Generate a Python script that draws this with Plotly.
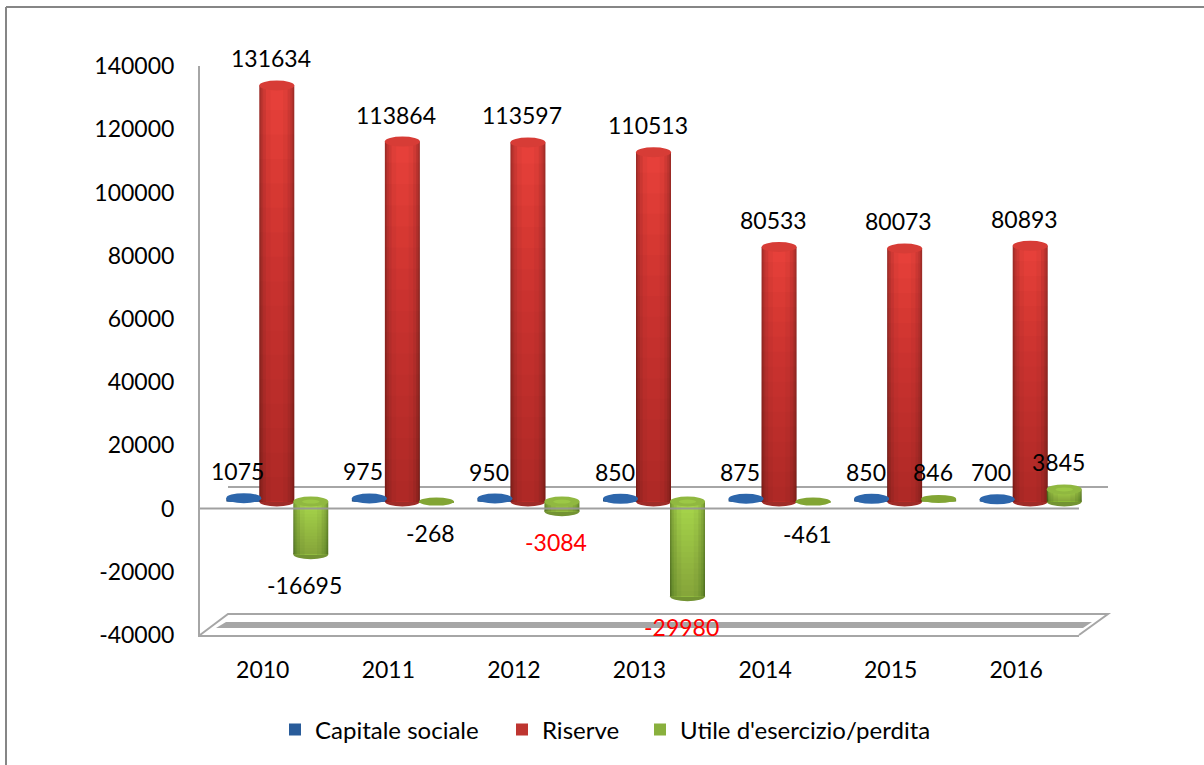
import plotly.graph_objects as go

years = ["2010", "2011", "2012", "2013", "2014", "2015", "2016"]
capitale = [1075, 975, 950, 850, 875, 850, 700]
riserve = [131634, 113864, 113597, 110513, 80533, 80073, 80893]
utile = [-16695, -268, -3084, -29980, -461, 846, 3845]
y_ticks = [-40000, -20000, 0, 20000, 40000, 60000, 80000, 100000, 120000, 140000]
names = ["Capitale sociale", "Riserve", "Utile d'esercizio/perdita"]

W, H = 1204, 765
GRAY = "rgb(166,166,166)"
FONT = "Lato"
FS = 23

X0, X1, Y_TOP, Y_BOT = 200, 1079, 66, 635
DX, DY = 14, 7          # depth offset of the 3D plot floor
PX_X = (X1 - X0) / 7    # pixels per category
PX_Y = (Y_BOT - Y_TOP) / 180000  # pixels per unit

def fx(p): return p / W
def fy(p): return 1 - p / H

OFFSETS = [-33 / PX_X, 0, 34 / PX_X]
BAR_W = 35 / PX_X
STRIPS = [(1.0, 0.70), (0.95, 0.78), (0.88, 0.86), (0.78, 0.93), (0.62, 1.0), (0.36, 1.04)]
COLORS = [(48, 108, 180), (222, 62, 56), (160, 205, 72)]
series = [capitale, riserve, utile]

def shade(c, k):
    return "rgb(%d,%d,%d)" % tuple(min(255, int(v * k)) for v in c)

fig = go.Figure()
# invisible trace that carries the visible axes
fig.add_trace(go.Scatter(x=years, y=[0] * 7, mode="none", xaxis="x", yaxis="y",
                         showlegend=False, hoverinfo="skip"))
legends = ["legend", "legend2", "legend3"]
for s, vals in enumerate(series):
    xs = [i + OFFSETS[s] for i in range(7)]
    for j, (wf, k) in enumerate(STRIPS):
        fig.add_trace(go.Bar(
            x=xs, y=vals, width=BAR_W * wf, xaxis="x2", yaxis="y2",
            marker=dict(color=shade(COLORS[s], k), line=dict(width=0)),
            name=names[s], showlegend=(j == 2), legend=legends[s],
            legendgroup=names[s], hoverinfo="skip"))

shapes = []
# outer frame: only the top and left edges are visible
shapes.append(dict(type="line", xref="paper", yref="paper", x0=fx(6), x1=1, y0=fy(7), y1=fy(7),
                   line=dict(color="rgb(134,134,134)", width=2), layer="below"))
shapes.append(dict(type="line", xref="paper", yref="paper", x0=fx(6), x1=fx(6), y0=fy(7), y1=0,
                   line=dict(color="rgb(134,134,134)", width=2), layer="below"))
# back zero line and 3D floor
shapes.append(dict(type="line", xref="paper", yref="paper", x0=fx(X0 + 28), x1=fx(X1 + 29), y0=fy(487), y1=fy(487),
                   line=dict(color=GRAY, width=2), layer="below"))
shapes.append(dict(type="path", xref="paper", yref="paper",
                   path=f"M{fx(X0)},{fy(Y_BOT)} L{fx(X0 + 28)},{fy(614)} L{fx(X1 + 29)},{fy(614)} L{fx(X1)},{fy(Y_BOT)}",
                   line=dict(color=GRAY, width=2), layer="below"))
shapes.append(dict(type="path", xref="paper", yref="paper",
                   path=f"M{fx(216)},{fy(628)} L{fx(226)},{fy(622)} L{fx(1092)},{fy(622)} L{fx(1083)},{fy(628)} Z",
                   line=dict(width=0), fillcolor=GRAY, layer="below"))

EH = 5 / PX_Y
def ellipse(cx, cy, color, layer, hw=BAR_W / 2, hh=EH):
    return dict(type="circle", xref="x2", yref="y2", x0=cx - hw, x1=cx + hw, y0=cy - hh, y1=cy + hh,
                fillcolor=color, line=dict(width=0), layer=layer)

# red feet sit behind the bars
for i in range(7):
    shapes.append(ellipse(i + OFFSETS[1], 0, shade(COLORS[1], 0.72), "below"))
# vertical shading of the tall cylinders
for s in (1, 2):
    for i, v in enumerate(series[s]):
        if abs(v) < 2000:
            continue
        cx = i + OFFSETS[s]
        lo, hi = min(v, 0), max(v, 0)
        alpha = 0.02 if s == 1 else 0.012
        for n in range(1, 17):
            shapes.append(dict(type="rect", xref="x2", yref="y2", x0=cx - BAR_W / 2, x1=cx + BAR_W / 2,
                               y0=lo, y1=lo + (hi - lo) * n / 17,
                               fillcolor=f"rgba(40,0,0,{alpha})", line=dict(width=0), layer="above"))
# flat blue discs
for i, v in enumerate(capitale):
    shapes.append(ellipse(i + OFFSETS[0], v, shade(COLORS[0], 0.95), "above"))
# green discs and cylinder ends
for i, v in enumerate(utile):
    cx = i + OFFSETS[2]
    if abs(v) < 2000:
        shapes.append(ellipse(cx, max(v, 0), "rgb(130,165,52)", "above", hh=4 / PX_Y))
    else:
        shapes.append(ellipse(cx, min(v, 0), shade(COLORS[2], 0.72), "below"))
        shapes.append(ellipse(cx, max(v, 0), shade(COLORS[2], 0.9), "above"))
        shapes.append(ellipse(cx, max(v, 0), shade(COLORS[2], 0.98), "above", hw=BAR_W / 4, hh=EH / 2.5))
# red tops
for i, v in enumerate(riserve):
    shapes.append(ellipse(i + OFFSETS[1], v, shade(COLORS[1], 0.97), "above"))
# the front zero line runs across the bars
shapes.append(dict(type="line", xref="paper", yref="y", x0=fx(X0), x1=fx(X1), y0=0, y1=0,
                   line=dict(color="rgba(150,150,150,0.9)", width=2), layer="above"))

annotations = []
for s, vals in enumerate(series):
    for i, v in enumerate(vals):
        annotations.append(dict(
            x=i + OFFSETS[s], y=v, xref="x2", yref="y2", text=str(v), showarrow=False,
            xshift=-6, yshift=27 if v >= 0 else -31,
            font=dict(family=FONT, size=FS, color="red" if v in (-3084, -29980) else "black")))

legend_common = dict(orientation="h", bgcolor="rgba(0,0,0,0)", yanchor="middle", y=fy(730),
                     xanchor="left",
                     font=dict(family=FONT, size=24, color="black"),
                     itemclick=False, itemdoubleclick=False)

fig.update_layout(
    width=W, height=H, autosize=False,
    margin=dict(l=0, r=0, t=0, b=0, autoexpand=False),
    paper_bgcolor="white", plot_bgcolor="rgba(0,0,0,0)",
    barmode="overlay", showlegend=True,
    font=dict(family=FONT, size=FS, color="black"),
    xaxis=dict(domain=[fx(X0), fx(X1)], type="category", categoryorder="array", categoryarray=years,
               range=[-0.5, 6.5], anchor="y", showgrid=False, showline=True, linecolor=GRAY, linewidth=2,
               ticks="", ticklabelstandoff=13, zeroline=False, tickfont=dict(family=FONT, size=FS, color="black")),
    yaxis=dict(domain=[fy(Y_BOT), fy(Y_TOP)], range=[-40000, 140000], tickvals=y_ticks,
               ticktext=[str(t) for t in y_ticks], anchor="x",
               showgrid=False, showline=True, linecolor=GRAY, linewidth=2, ticks="",
               zeroline=False, ticklabelstandoff=19,
               tickfont=dict(family=FONT, size=FS, color="black")),
    xaxis2=dict(domain=[fx(X0 + DX), fx(X1 + DX)], range=[-0.5, 6.5], anchor="y2", visible=False),
    yaxis2=dict(domain=[fy(Y_BOT) + DY / H, fy(Y_TOP) + DY / H], range=[-40000, 140000], anchor="x2", visible=False),
    shapes=shapes, annotations=annotations,
    legend=dict(x=fx(275), **legend_common),
    legend2=dict(x=fx(502), **legend_common),
    legend3=dict(x=fx(640), **legend_common),
)

fig.write_html("out.html", config={"displayModeBar": False},
               post_script="document.body.style.margin='0';")
